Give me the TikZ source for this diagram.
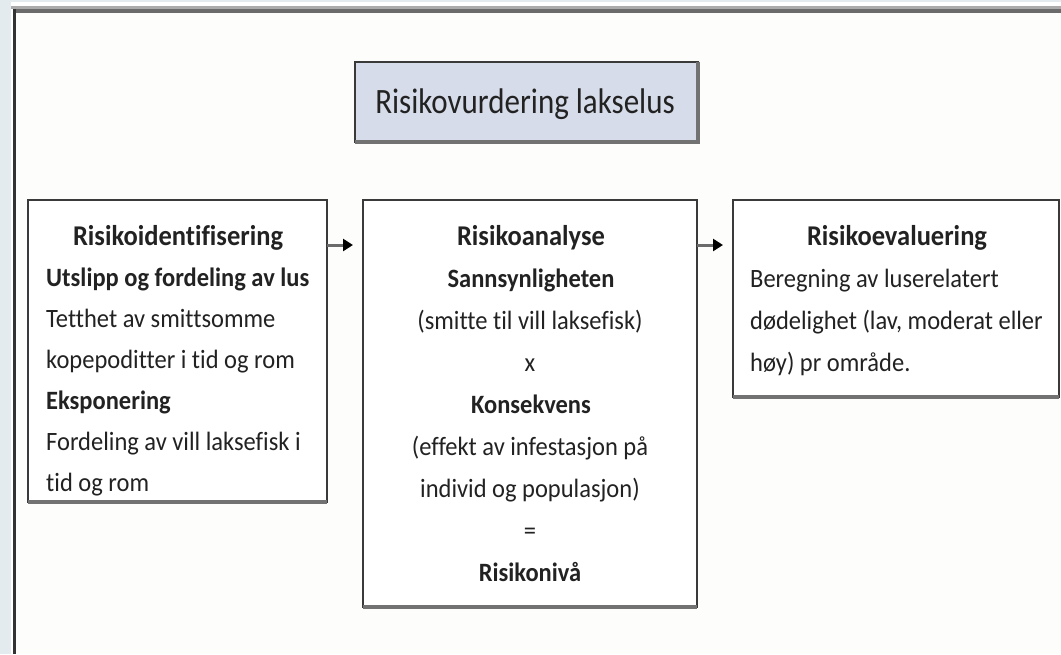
\documentclass[tikz,border=0pt]{standalone}
\usepackage{fontspec}
\setmainfont{Carlito}[Ligatures=CommonOff]
\usetikzlibrary{arrows.meta,calc}
\definecolor{bgblue}{HTML}{E3EBEE}
\definecolor{paper}{HTML}{FDFDFB}
\definecolor{bordc}{HTML}{3A3A3A}
\definecolor{shadc}{HTML}{727272}
\definecolor{titlefill}{HTML}{D6DCE9}
\definecolor{txtc}{HTML}{222222}
\newcommand{\bodyfont}{\fontsize{24.5}{30}\selectfont}
\newcommand{\headfont}{\fontsize{26.5}{32}\selectfont\bfseries}
\newcommand{\titlefont}{\fontsize{31}{37}\selectfont}
\newcommand{\vs}[1]{\scalebox{1}[1.08]{#1}}
\newcommand{\vst}[1]{\scalebox{1}[1.15]{#1}}
\tikzset{
  boxnode/.style={draw=bordc, line width=2.5pt, fill=white, inner sep=0pt, outer sep=0pt, anchor=north west},
  shadowline/.style={draw=shadc, line width=4pt},
  txt/.style={inner sep=0pt, anchor=base, font=\bodyfont, text=txtc},
  txtl/.style={txt, anchor=base west},
  head/.style={txt, font=\headfont},
  arr/.style={draw=bordc!75, line width=3pt, -{Triangle[length=10pt,width=12pt,color=black]}}
}
\begin{document}
\begin{tikzpicture}[x=1pt,y=-1pt]
\useasboundingbox (0,0) rectangle (1061,654);
% page background
\fill[bgblue] (0,0) rectangle (1061,654);
\fill[white] (11,2) rectangle (1061,654);
\fill[black!33] (11,6) rectangle (1061,9);
\fill[black!58] (13,9) rectangle (1061,13);
\fill[black!80] (13,9) rectangle (16,654);
\fill[paper] (16,13) rectangle (1061,654);

% title
\node[boxnode, fill=titlefill, minimum width=343pt, minimum height=80pt] (T) at (355,62) {};
\draw[shadowline] (T.south west) -- (T.south east) -- (T.north east);
\node[txt, font=\titlefont] (Tt) at (525,113) {\vst{Risikovurdering lakselus}};

% boxes
\node[boxnode, minimum width=299pt, minimum height=302pt] (L) at (28,200) {};
\draw[shadowline] (L.south west) -- (L.south east);
\node[boxnode, minimum width=334pt, minimum height=407pt] (M) at (363,200) {};
\draw[shadowline] (M.south west) -- (M.south east);
\node[boxnode, minimum width=326pt, minimum height=197pt] (R) at (733,200) {};
\draw[shadowline] (R.south west) -- (R.south east);

% arrows
\coordinate (a1) at (353,245);
\coordinate (a2) at (723,245);
\draw[arr] (L.east |- a1) -- (a1);
\draw[arr] (M.east |- a2) -- (a2);

% left box text
\node[head] (L1) at (178,245) {\vs{Risikoidentifisering}};
\node[txtl, font=\bodyfont\bfseries] (L2) at (46,286) {\vs{Utslipp og fordeling av lus}};
\node[txtl] (L3) at (46,327) {\vs{Tetthet av smittsomme}};
\node[txtl] (L4) at (46,368) {\vs{kopepoditter i tid og rom}};
\node[txtl, font=\bodyfont\bfseries] (L5) at (46,409) {\vs{Eksponering}};
\node[txtl] (L6) at (46,450) {\vs{Fordeling av vill laksefisk i}};
\node[txtl] (L7) at (46,491) {\vs{tid og rom}};

% middle box text
\node[head] (M1) at (531,245) {\vs{Risikoanalyse}};
\node[txt, font=\bodyfont\bfseries] (M2) at (531,287) {\vs{Sannsynligheten}};
\node[txt] (M3) at (530,329) {\vs{(smitte til vill laksefisk)}};
\node[txt] (M4) at (530,371) {\vs{x}};
\node[txt, font=\bodyfont\bfseries] (M5) at (531,413) {\vs{Konsekvens}};
\node[txt] (M6) at (530,455) {\vs{(effekt av infestasjon på}};
\node[txt] (M7) at (530,497) {\vs{individ og populasjon)}};
\node[txt] (M8) at (530,539) {\vs{=}};
\node[txt, font=\bodyfont\bfseries] (M9) at (530,581) {\vs{Risikonivå}};

% right box text
\node[head] (R1) at (897,245) {\vs{Risikoevaluering}};
\node[txtl] (R2) at (750,287) {\vs{Beregning av luserelatert}};
\node[txtl] (R3) at (750,329) {\vs{dødelighet (lav, moderat eller}};
\node[txtl] (R4) at (750,371) {\vs{høy) pr område.}};
\end{tikzpicture}
\end{document}
